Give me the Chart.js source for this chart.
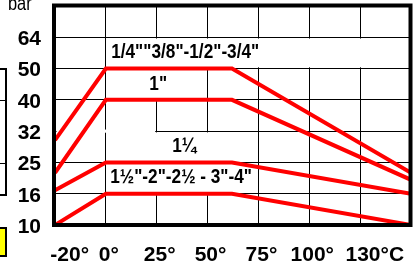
<!DOCTYPE html>
<html>
<head>
<meta charset="utf-8">
<script src="https://cdn.jsdelivr.net/npm/chart.js@4.4.1/dist/chart.umd.min.js"></script>
<style>
  body { margin: 0; background: #fff; overflow: hidden; }
  #wrap { position: relative; width: 413px; height: 263px; }
  .side { position: absolute; border: 2px solid #000; }
  .rule { position: absolute; background: #000; height: 1px; left: 0; width: 5px; }
</style>
</head>
<body>
<div id="wrap">
  <canvas id="chart" width="413" height="263"></canvas>
  <div class="side" style="left:-12px; top:68px; width:15px; height:124px;"></div>
  <div class="rule" style="top:100px"></div>
  <div class="rule" style="top:163px"></div>
  <div class="side" style="left:-12px; top:227px; width:15px; height:26px; background:#ffff00;"></div>
</div>
<script>
// grid steps: evenly spaced on the chart, uneven in value
const tempSteps = [-20, 0, 25, 50, 75, 100, 130, 150];
const tempLabels = ['-20°', '0°', '25°', '50°', '75°', '100°', '130°C', ''];
const barSteps = [10, 16, 25, 32, 40, 50, 64, 80];
const barLabels = ['10', '16', '25', '32', '40', '50', '64', ''];

// pressure (bar) vs temperature (°C) for each size group
const temps = [-20, 0, 62, 150];
const bar1_4to3_4 = [30, 50, 50, 22];
const bar1 = [22, 40, 40, 20];
const bar1_1_4 = [17, 25, 25, 16];
const bar1_1_2to4 = [10, 16, 16, 10];

// where a value sits between the grid steps
function stepPos(v, steps) {
  for (let i = 1; i < steps.length; i++) {
    if (v <= steps[i]) return i - 1 + (v - steps[i - 1]) / (steps[i] - steps[i - 1]);
  }
  return steps.length - 1;
}

function series(bars) {
  return temps.map((t, i) => ({ x: stepPos(t, tempSteps), y: stepPos(bars[i], barSteps) }));
}

// in-chart labels, with the white patches behind them (grid units)
const notes = [
  { text: '1/4""3/8"-1/2"-3/4"', col: 2.56, row: 5.52, boxes: [[1.05, 7, 5.04, 5.96]] },
  { text: '1"', col: 2.03, row: 4.5, boxes: [[1.5, 2.5, 4.04, 4.96]] },
  { text: '1¼', col: 2.54, row: 2.53, boxes: [[1.1, 3.9, 2.04, 2.96], [0.03, 1.97, 2.95, 3.05]] },
  { text: '1½"-2"-2½ - 3"-4"', col: 2.48, row: 1.53, boxes: [[1.04, 3.95, 1.04, 1.96]] }
];

const FONT = '"Liberation Sans", Arial, sans-serif';

const notesPlugin = {
  id: 'notes',
  beforeDatasetsDraw(chart) {
    const { ctx, scales: { x, y } } = chart;
    ctx.save();
    ctx.fillStyle = '#fff';
    notes.forEach(n => n.boxes.forEach(b => {
      const x0 = x.getPixelForValue(b[0]), x1 = x.getPixelForValue(b[1]);
      const y0 = y.getPixelForValue(b[3]), y1 = y.getPixelForValue(b[2]);
      ctx.fillRect(x0, y0, x1 - x0, y1 - y0);
    }));
    ctx.fillStyle = '#000';
    ctx.font = 'bold 21px ' + FONT;
    ctx.textAlign = 'center';
    ctx.textBaseline = 'middle';
    notes.forEach(n => {
      ctx.save();
      ctx.translate(x.getPixelForValue(n.col), y.getPixelForValue(n.row));
      ctx.scale(0.82, 1);
      ctx.fillText(n.text, 0, 0);
      ctx.restore();
    });
    ctx.restore();
  },
  afterDatasetsDraw(chart) {
    const { ctx, chartArea: a } = chart;
    ctx.save();
    ctx.strokeStyle = '#000';
    ctx.lineWidth = 4;
    ctx.strokeRect(a.left - 1, a.top - 0.5, a.right - a.left + 0.5, a.bottom - a.top + 0.5);
    // unit label, partly cut off at the top
    ctx.fillStyle = '#000';
    ctx.font = '20px ' + FONT;
    ctx.textAlign = 'left';
    ctx.textBaseline = 'alphabetic';
    ctx.translate(8, 10);
    ctx.scale(0.82, 1);
    ctx.fillText('bar', 0, 0);
    ctx.restore();
  }
};

const lineStyle = { borderColor: '#ff0000', borderWidth: 4, pointRadius: 0, fill: false, tension: 0 };

// fixed axis sizes so the plot box lands where it is in the picture
function noPad(s) {
  s.paddingTop = 0; s.paddingBottom = 0; s.paddingLeft = 0; s.paddingRight = 0;
}

new Chart(document.getElementById('chart'), {
  type: 'line',
  data: {
    datasets: [
      { label: '1/4"-3/4"', data: series(bar1_4to3_4), ...lineStyle },
      { label: '1"', data: series(bar1), ...lineStyle },
      { label: '1 1/4"', data: series(bar1_1_4), ...lineStyle },
      { label: '1 1/2"-4"', data: series(bar1_1_2to4), ...lineStyle }
    ]
  },
  options: {
    responsive: false,
    animation: false,
    devicePixelRatio: 1,
    layout: { padding: { top: 6, right: 2, left: 0, bottom: 0 } },
    plugins: { legend: { display: false }, tooltip: { enabled: false } },
    scales: {
      x: {
        type: 'linear', min: 0, max: tempLabels.length - 1,
        afterBuildTicks: s => { s.ticks = tempLabels.map((_, i) => ({ value: i })); },
        afterFit: s => { s.height = 38; noPad(s); },
        grid: { color: '#000', lineWidth: 1, drawTicks: false },
        border: { display: false },
        ticks: {
          color: '#000', padding: 18, labelOffset: 3, autoSkip: false, maxRotation: 0,
          font: { family: FONT, size: 21, weight: 'bold' },
          // end labels sit a little inward from their grid line
          callback: v => tempLabels[v] ? (v === 0 || v === 6 ? '    ' : '') + tempLabels[v] : null
        }
      },
      y: {
        type: 'linear', min: 0, max: barLabels.length - 1,
        afterBuildTicks: s => { s.ticks = barLabels.map((_, i) => ({ value: i })); },
        afterFit: s => { s.width = 55; noPad(s); },
        grid: { color: '#000', lineWidth: 1, drawTicks: false },
        border: { display: false },
        ticks: {
          color: '#000', padding: 14, crossAlign: 'center', labelOffset: 2,
          font: { family: FONT, size: 21, weight: 'bold' },
          callback: v => barLabels[v] || null
        }
      }
    }
  },
  plugins: [notesPlugin]
});
</script>
</body>
</html>
